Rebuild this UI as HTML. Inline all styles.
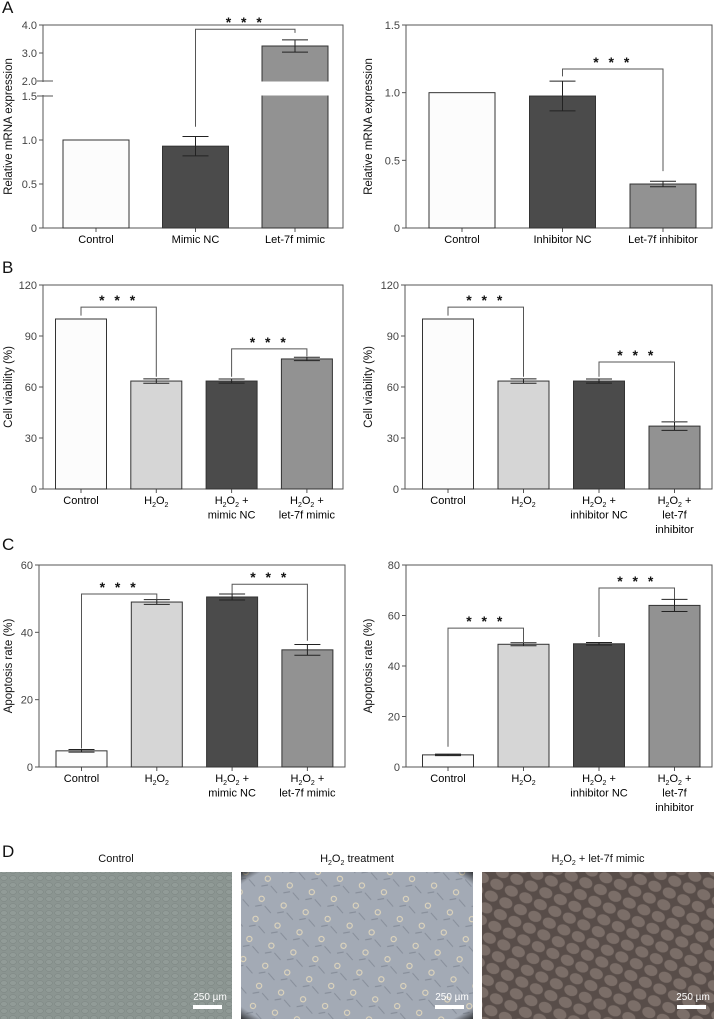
<!DOCTYPE html>
<html><head><meta charset="utf-8"><style>
html,body{margin:0;padding:0;background:#fff;}
svg{display:block;font-family:"Liberation Sans",sans-serif;}
</style></head><body>
<svg id="fig" width="714" height="1019" viewBox="0 0 714 1019">
<defs>
<pattern id="cellsA" width="9" height="7" patternUnits="userSpaceOnUse"><rect width="9" height="7" fill="#8c9592"/><ellipse cx="4" cy="3" rx="3.4" ry="2.4" fill="#959e9b" stroke="#7a8280" stroke-width="0.6"/></pattern>
<pattern id="cellsB" width="23" height="21" patternUnits="userSpaceOnUse" patternTransform="rotate(17)"><rect width="23" height="21" fill="#a3aab5"/><circle cx="7" cy="6" r="2.6" fill="none" stroke="#e0d6bc" stroke-width="1.1"/><path d="M12 12 l8 5 M3 15 l6 -3" stroke="#858c98" stroke-width="1"/></pattern>
<pattern id="cellsC" width="16" height="13" patternUnits="userSpaceOnUse" patternTransform="rotate(25)"><rect width="16" height="13" fill="#4a403d"/><ellipse cx="8" cy="6.5" rx="6.8" ry="5.3" fill="#7c6f69"/></pattern>
<radialGradient id="vig" cx="0.5" cy="0.5" r="0.72"><stop offset="0.9" stop-color="#000" stop-opacity="0"/><stop offset="1" stop-color="#000" stop-opacity="0.85"/></radialGradient>
</defs>
<g id="charts"></g>
<text x="2" y="857" font-size="17" fill="#111">D</text>
<text x="116" y="862" font-size="11" text-anchor="middle" fill="#111">Control</text>
<text x="357" y="862" font-size="11" text-anchor="middle" fill="#111">H<tspan font-size="7" dy="3">2</tspan><tspan dy="-3">O</tspan><tspan font-size="7" dy="3">2</tspan><tspan dy="-3"> treatment</tspan></text>
<text x="598" y="862" font-size="11" text-anchor="middle" fill="#111">H<tspan font-size="7" dy="3">2</tspan><tspan dy="-3">O</tspan><tspan font-size="7" dy="3">2</tspan><tspan dy="-3"> + let-7f mimic</tspan></text>
<g><rect x="0" y="872" width="232" height="147" fill="url(#cellsA)"/><rect x="0" y="872" width="232" height="147" fill="#8a9490" opacity="0.35"/>
<text x="210" y="1000" font-size="10" fill="#fff" text-anchor="middle">250 µm</text><rect x="193" y="1005" width="29" height="4" fill="#fff"/></g>
<g><rect x="241" y="872" width="232" height="147" fill="url(#cellsB)"/><rect x="241" y="872" width="232" height="147" fill="url(#vig)"/>
<text x="452" y="1000" font-size="10" fill="#fff" text-anchor="middle">250 µm</text><rect x="435" y="1005" width="29" height="4" fill="#fff"/></g>
<g><rect x="482" y="872" width="232" height="147" fill="url(#cellsC)"/><rect x="482" y="872" width="232" height="147" fill="#7a6c66" opacity="0.3"/>
<text x="693" y="1000" font-size="10" fill="#fff" text-anchor="middle">250 µm</text><rect x="677" y="1005" width="29" height="4" fill="#fff"/></g>
</svg>
<script>
// ---- data ----
const aLeftCats = ["Control","Mimic NC","Let-7f mimic"];
const aLeftVals = [1.0, 0.93, 3.25];
const aLeftErr = [0, 0.11, 0.22];
const aRightCats = ["Control","Inhibitor NC","Let-7f inhibitor"];
const aRightVals = [1.0, 0.975, 0.325];
const aRightErr = [0, 0.11, 0.02];
const bLeftVals = [100, 63.5, 63.5, 76.5];
const bLeftErr = [0, 1.3, 1.2, 1.0];
const bRightVals = [100, 63.5, 63.5, 37];
const bRightErr = [0, 1.3, 1.2, 2.5];
const cLeftVals = [4.8, 49, 50.5, 34.8];
const cLeftErr = [0.4, 0.7, 0.9, 1.6];
const cRightVals = [4.8, 48.6, 48.8, 64];
const cRightErr = [0.3, 0.6, 0.5, 2.4];
const aRightTicks = ["0","0.5","1.0","1.5"];
const bTicks = ["0","30","60","90","120"];
const cLeftTicks = ["0","20","40","60"];
const cRightTicks = ["0","20","40","60","80"];
const mimicCats = [["Control"],["H2O2"],["H2O2 +","mimic NC"],["H2O2 +","let-7f mimic"]];
const inhCats = [["Control"],["H2O2"],["H2O2 +","inhibitor NC"],["H2O2 +","let-7f","inhibitor"]];
const colors3 = ["#fcfcfc","#4b4b4b","#929292"];
const colors4 = ["#fcfcfc","#d6d6d6","#4b4b4b","#929292"];

const NS="http://www.w3.org/2000/svg";
const root=document.getElementById('charts');
function mk(tag,attrs,parent,txt){const e=document.createElementNS(NS,tag);for(const k in attrs)e.setAttribute(k,attrs[k]);if(txt!=null)e.textContent=txt;(parent||root).appendChild(e);return e;}
function subText(parent,x,y,str){
  const t=mk('text',{x:x,y:y,'font-size':11,'text-anchor':'middle',fill:'#000'},parent);
  const parts=str.split('H2O2');
  if(parts.length===1){t.textContent=str;return t;}
  const s=(v,a)=>{const ts=mk('tspan',a||{},t);ts.textContent=v;};
  s('H');s('2',{'font-size':7,dy:3});s('O',{dy:-3});s('2',{'font-size':7,dy:3});s(parts[1],{dy:-3});
  return t;
}
function chart(o){
  const g=mk('g',{});
  
  
  const y=o.y;
  mk('rect',{x:o.x0,y:o.top,width:o.x1-o.x0,height:o.bot-o.top,fill:'none',stroke:'#555','stroke-width':1},g);
  if(o.breakGap){mk('rect',{x:o.x0-1,y:o.breakGap[0]+1,width:3,height:o.breakGap[1]-o.breakGap[0]-2,fill:'#fff'},g);}
  o.ticks.forEach(tk=>{const yy=y(tk.v);mk('line',{x1:o.x0-(tk.long?6:4),x2:o.x0+(tk.long?10:0),y1:yy,y2:yy,stroke:'#555'},g);
    const t=mk('text',{x:o.x0-6,y:yy+4,'font-size':11,'text-anchor':'end',fill:'#444'},g,tk.l);
    });
  const yt=mk('text',{x:0,y:0,'font-size':11.5,'text-anchor':'middle',fill:'#111',transform:`translate(${o.ytx},${(o.top+o.bot)/2}) rotate(-90)`},g,o.ytitle);
  
  o.vals.forEach((v,i)=>{
    const cx=o.c0+i*o.step, x=cx-o.bw/2;
    mk('line',{x1:cx,x2:cx,y1:o.bot,y2:o.bot+4,stroke:'#555'},g);
    const b=mk('rect',{x:x,y:y(v),width:o.bw,height:o.bot-y(v),fill:o.colors[i],stroke:'#333','stroke-width':1},g);
    
    if(o.breakGap && y(v)<o.breakGap[0]){mk('rect',{x:x-1,y:o.breakGap[0]+0.5,width:o.bw+2,height:o.breakGap[1]-o.breakGap[0]-1,fill:'#fff'},g);}
    const e=o.err[i];
    if(e>0){const yu=y(v+e),yd=y(v-e);
      const eg=mk('g',{},g);
      mk('line',{x1:cx,x2:cx,y1:yu,y2:yd,stroke:'#222'},eg);
      mk('line',{x1:cx-13,x2:cx+13,y1:yu,y2:yu,stroke:'#222'},eg);
      mk('line',{x1:cx-13,x2:cx+13,y1:yd,y2:yd,stroke:'#222'},eg);}
    o.cats[i].forEach((ln,k)=>{const t=subText(g,cx,o.bot+15+k*14.5,ln);});
  });
  o.br.forEach((b,k)=>{
    const xa=o.c0+b[0]*o.step, xb=o.c0+b[1]*o.step, yt2=y(b[2]);
    const bg=mk('g',{},g);
    mk('polyline',{points:`${xa},${y(b[3])} ${xa},${yt2} ${xb},${yt2} ${xb},${y(b[4])}`,fill:'none',stroke:'#555'},bg);
    mk('text',{x:(xa+xb)/2,y:yt2-2,'font-size':14,'font-weight':'bold','text-anchor':'middle',fill:'#111','letter-spacing':'3'},bg,'* * *');
  });
  return g;
}
const lin=(v0,v1,p0,p1)=>v=>p0+(v-v0)*(p1-p0)/(v1-v0);
const aLy=v=>v<=1.75?228-v*88:81-(v-2)*28;
chart({name:'chart-a-left-mimic-expression',x0:43,x1:343,top:25,bot:228,y:aLy,breakGap:[81,96],
  ticks:[{v:0,l:'0'},{v:0.5,l:'0.5'},{v:1,l:'1.0'},{v:1.5,l:'1.5',long:1},{v:2,l:'2.0',long:1},{v:3,l:'3.0'},{v:4,l:'4.0'}],
  ytitle:'Relative mRNA expression',ytx:12,vals:aLeftVals,err:aLeftErr,cats:aLeftCats.map(c=>[c]),colors:colors3,
  c0:96,step:99.5,bw:66,br:[[1,2,3.85,1.15,3.72]]});
chart({name:'chart-a-right-inhibitor-expression',x0:406,x1:712,top:25,bot:228,y:lin(0,1.5,228,25),
  ticks:aRightTicks.map(l=>({v:+l,l:l})),ytitle:'Relative mRNA expression',ytx:372,vals:aRightVals,err:aRightErr,
  cats:aRightCats.map(c=>[c]),colors:colors3,c0:462,step:100.5,bw:66,br:[[1,2,1.175,1.12,0.42]]});
chart({name:'chart-b-left-cell-viability',x0:43,x1:343,top:285,bot:489,y:lin(0,120,489,285),
  ticks:bTicks.map(l=>({v:+l,l:l})),ytitle:'Cell viability (%)',ytx:12,vals:bLeftVals,err:bLeftErr,cats:mimicCats,colors:colors4,
  c0:81,step:75.3,bw:51,br:[[0,1,107,102,66],[2,3,82.4,66,78]]});
chart({name:'chart-b-right-cell-viability',x0:405,x1:712,top:285,bot:489,y:lin(0,120,489,285),
  ticks:bTicks.map(l=>({v:+l,l:l})),ytitle:'Cell viability (%)',ytx:372,vals:bRightVals,err:bRightErr,cats:inhCats,colors:colors4,
  c0:448,step:75.5,bw:51,br:[[0,1,107,102,66],[2,3,74.7,66,40]]});
chart({name:'chart-c-left-apoptosis',x0:39,x1:345,top:565,bot:767,y:lin(0,60,767,565),
  ticks:cLeftTicks.map(l=>({v:+l,l:l})),ytitle:'Apoptosis rate (%)',ytx:12,vals:cLeftVals,err:cLeftErr,cats:mimicCats,colors:colors4,
  c0:81.5,step:75.3,bw:51,br:[[0,1,51.4,5.5,49.8],[2,3,54.3,51.5,37.5]]});
chart({name:'chart-c-right-apoptosis',x0:406,x1:712,top:565,bot:767,y:lin(0,80,767,565),
  ticks:cRightTicks.map(l=>({v:+l,l:l})),ytitle:'Apoptosis rate (%)',ytx:372,vals:cRightVals,err:cRightErr,cats:inhCats,colors:colors4,
  c0:448,step:75.5,bw:51,br:[[0,1,55,8,49.5],[2,3,70.9,51.5,66.5]]});
[['A',13],['B',273],['C',550]].forEach(p=>{const t=mk('text',{x:2,y:p[1],'font-size':17,fill:'#111'},root,p[0]);

});
</script>
</body></html>
